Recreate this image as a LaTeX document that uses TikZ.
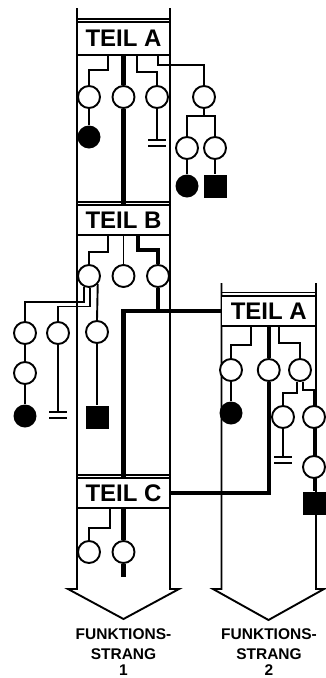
\documentclass[tikz,border=0pt]{standalone}
\usepackage{fontspec}
\setmainfont{Liberation Sans}
\begin{document}
\begin{tikzpicture}[x=1pt,y=-1pt,
  thinline/.style={line width=1.9pt},
  thickline/.style={line width=4.4pt},
  cir/.style={circle,draw,line width=1.9pt,fill=white,minimum size=22pt,inner sep=0pt},
  dot/.style={circle,fill=black,minimum size=23pt,inner sep=0pt},
  blk/.style={rectangle,fill=black,minimum size=23pt,inner sep=0pt},
  teil/.style={rectangle,draw,line width=1.9pt,fill=white,inner sep=0pt,
    font=\fontsize{24}{24}\selectfont\bfseries},
  strang/.style={font=\fontsize{15.5}{16}\selectfont\bfseries,inner sep=0pt},
  earthsym/.pic={\draw[line width=1.9pt] (-9,0) -- (9,0) (-9,6) -- (9,6);},
  line join=miter]
\useasboundingbox (0,0) rectangle (326,678);

% ---------- strand outlines ----------
\draw[thinline] (77,8) -- (77,589) -- (68,589) -- (123.5,619) -- (179,589) -- (170,589) -- (170,8);
\draw[thinline] (221.5,283) -- (221.5,589) -- (213,589) -- (268.5,620) -- (324,589) -- (316,589) -- (316,283);

% ---------- part boxes ----------
\node[teil,minimum width=93pt,minimum height=33pt] (tA) at (123.5,38.5) {TEIL A};
\node[teil,minimum width=93pt,minimum height=29.5pt] (tB) at (123.5,220) {TEIL B};
\node[teil,minimum width=94.5pt,minimum height=30pt] (tA2) at (268.75,311) {TEIL A};
\node[teil,minimum width=93pt,minimum height=30pt] (tC) at (123.5,493) {TEIL C};
\draw[thinline] (77,19) -- (170,19);
\draw[thinline] (77,202) -- (170,202);
\draw[thinline] (221.5,292.5) -- (316,292.5);
\draw[thinline] (77,475) -- (170,475);

% ---------- elements below TEIL A (strand 1) ----------
\node[cir] (a1) at (89,97) {};
\node[cir] (a2) at (123.5,97) {};
\node[cir] (a3) at (157,97) {};
\node[cir] (a4) at (204,97) {};
\node[dot] (fa1) at (89,137) {};
\coordinate (gA) at (157,140);
\pic at (gA) {earthsym};
\node[cir] (a5) at (187,148) {};
\node[cir] (a6) at (215,148) {};
\node[dot] (fa5) at (187,186) {};
\node[blk] (sa6) at (215,186) {};

\draw[thinline] (tA.south -| 108,0) -- (108,70) -| (a1.north);
\draw[thickline] (tA.south) -- (a2.north);
\draw[thickline] (a2.south) -- (tB.north);
\draw[thinline] (tA.south -| 137,0) -- (137,72) -| (a3.north);
\draw[thinline] (tA.south -| 158,0) -- (158,65) -| (a4.north);
\draw[thinline] (a1.south) -- (fa1.north);
\draw[thinline] (a3.south) -- (gA);
\draw[thinline] (a4.south) -- (204,116) -| (a5.north);
\draw[thinline] (204,116) -| (a6.north);
\draw[thinline] (a5.south) -- (fa5.north);
\draw[thinline] (a6.south) -- (sa6.north);

% ---------- elements below TEIL B ----------
\node[cir] (b1) at (89,276) {};
\node[cir] (b2) at (123.5,276) {};
\node[cir] (b3) at (158,276) {};
\node[cir] (b4) at (25,333) {};
\node[cir] (b5) at (58,333) {};
\node[cir] (b6) at (97,332) {};
\node[cir] (b7) at (25,373) {};
\node[dot] (fb7) at (25,416) {};
\coordinate (gB) at (58,412);
\pic at (gB) {earthsym};
\node[blk] (sb6) at (97,417) {};

\draw[thinline] (tB.south -| 108,0) -- (108,252) -| (b1.north);
\draw[thinline] (tB.south) -- (b2.north);
\draw[thickline] (tB.south -| 138,0) -- (138,250) -| (b3.north);
\draw[thickline] (b3.south) -- (b3.south |- tA2.west);
\draw[thickline] (tC.north) -- (tC.north |- tA2.west) -- (tA2.west);
\draw[thinline] (b1.-117) -- (b1.-117 |- 0,302) -| (b4.north);
\draw[thinline] (b1.-85) -- (b1.-85 |- 0,306.5) -| (b5.north);
\draw[thinline] (b1.-43) -- (b6.north);
\draw[thinline] (b4.south) -- (b7.north);
\draw[thinline] (b7.south) -- (fb7.north);
\draw[thinline] (b5.south) -- (gB);
\draw[thinline] (b6.south) -- (sb6.north);

% ---------- elements below TEIL A (strand 2) ----------
\node[cir] (c1) at (231,370) {};
\node[cir] (c2) at (268.75,370) {};
\node[cir] (c3) at (300,370) {};
\node[dot] (fc1) at (231,413) {};
\node[cir] (c4) at (283,417) {};
\node[cir] (c5) at (314,417) {};
\node[cir] (c6) at (314,467) {};
\coordinate (gC) at (283,457);
\pic at (gC) {earthsym};
\node[blk] (sc6) at (314,503) {};

\draw[thinline] (tA2.south -| 251,0) -- (251,345) -| (c1.north);
\draw[thickline] (tA2.south) -- (c2.north);
\draw[thickline] (c2.south) |- (tC.east);
\draw[thinline] (tA2.south -| 279,0) -- (279,343) -| (c3.north);
\draw[thinline] (c1.south) -- (fc1.north);
\draw[thinline] (c3.-105) -- (c3.-105 |- 0,393) -| (c4.north);
\draw[thinline] (c3.-75) -- (c3.-75 |- 0,390) -| (c5.north);
\draw[thinline] (c4.south) -- (gC);
\draw[thinline] (c5.south) -- (c6.north);
\draw[thinline] (c6.south) -- (sc6.north);

% ---------- elements below TEIL C ----------
\node[cir] (d1) at (89,552) {};
\node[cir] (d2) at (123.5,552) {};
\coordinate (dEnd) at (123.5,577);
\draw[thinline] (tC.south -| 110,0) -- (110,528) -| (d1.north);
\draw[thickline] (tC.south) -- (d2.north);
\draw[thickline] (d2.south) -- (dEnd);

% ---------- strand captions ----------
\node[strang] (s1a) at (123.5,634) {FUNKTIONS-};
\node[strang] (s1b) at (123.5,654) {STRANG};
\node[strang] (s1c) at (123.5,670) {1};
\node[strang] (s2a) at (269,634) {FUNKTIONS-};
\node[strang] (s2b) at (269,654) {STRANG};
\node[strang] (s2c) at (269,670) {2};
\end{tikzpicture}
\end{document}
